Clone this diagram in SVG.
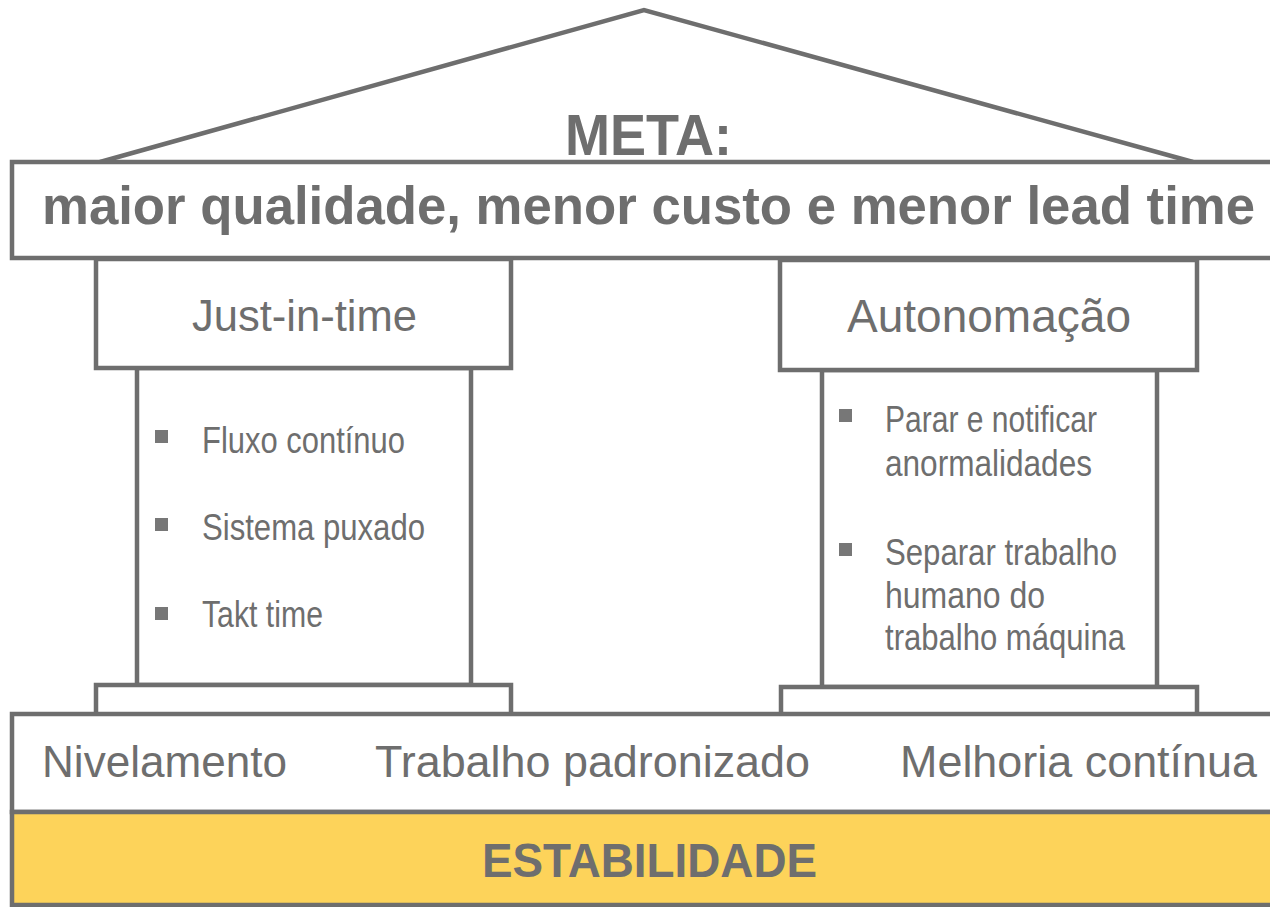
<svg xmlns="http://www.w3.org/2000/svg" width="1270" height="907" viewBox="0 0 1270 907">
<style>
.ln{fill:#fff;stroke:#6e6e6e;stroke-width:4.5}
.t{font-family:"Liberation Sans",Arial,sans-serif;fill:#6e6e6e}
.b{font-weight:bold}
.bul{fill:#777}
</style>
<rect width="1270" height="907" fill="#fff"/>
<g id="roof">
<polyline class="ln" points="100,162 644,10 1193,162" fill="none"/>
<rect class="ln" x="12" y="162" width="1300" height="96"/>
<text class="t b" x="565" y="155" font-size="58" textLength="167" lengthAdjust="spacingAndGlyphs">META:</text>
<text class="t b" x="42" y="224" font-size="54" textLength="1213" lengthAdjust="spacingAndGlyphs">maior qualidade, menor custo e menor lead time</text>
</g>
<g id="jit">
<rect class="ln" x="137" y="368" width="334" height="317"/>
<rect class="ln" x="96" y="259" width="415" height="109"/>
<rect class="ln" x="96" y="685" width="415" height="30"/>
<text class="t" x="192" y="331" font-size="45" textLength="225" lengthAdjust="spacingAndGlyphs">Just-in-time</text>
<rect class="bul" x="155" y="430" width="13" height="13"/>
<rect class="bul" x="155" y="518" width="13" height="13"/>
<rect class="bul" x="155" y="607" width="13" height="13"/>
<text class="t" x="202" y="453" font-size="36" textLength="203" lengthAdjust="spacingAndGlyphs">Fluxo contínuo</text>
<text class="t" x="202" y="540" font-size="36" textLength="223" lengthAdjust="spacingAndGlyphs">Sistema puxado</text>
<text class="t" x="202" y="627" font-size="36" textLength="121" lengthAdjust="spacingAndGlyphs">Takt time</text>
</g>
<g id="autonomacao">
<rect class="ln" x="822" y="370" width="335" height="317"/>
<rect class="ln" x="780" y="260" width="417" height="110"/>
<rect class="ln" x="781" y="687" width="416" height="28"/>
<text class="t" x="847" y="332" font-size="46" textLength="284" lengthAdjust="spacingAndGlyphs">Autonomação</text>
<rect class="bul" x="839" y="409" width="13" height="13"/>
<rect class="bul" x="839" y="543" width="13" height="13"/>
<text class="t" x="885" y="432" font-size="36" textLength="212" lengthAdjust="spacingAndGlyphs">Parar e notificar</text>
<text class="t" x="885" y="476" font-size="36" textLength="207" lengthAdjust="spacingAndGlyphs">anormalidades</text>
<text class="t" x="885" y="565" font-size="36" textLength="232" lengthAdjust="spacingAndGlyphs">Separar trabalho</text>
<text class="t" x="885" y="608" font-size="36" textLength="160" lengthAdjust="spacingAndGlyphs">humano do</text>
<text class="t" x="885" y="650" font-size="36" textLength="240" lengthAdjust="spacingAndGlyphs">trabalho máquina</text>
</g>
<g id="base">
<rect class="ln" x="12" y="714" width="1300" height="98"/>
<text class="t" x="42" y="777" font-size="44" textLength="245" lengthAdjust="spacingAndGlyphs">Nivelamento</text>
<text class="t" x="375" y="777" font-size="44" textLength="435" lengthAdjust="spacingAndGlyphs">Trabalho padronizado</text>
<text class="t" x="900" y="777" font-size="44" textLength="357" lengthAdjust="spacingAndGlyphs">Melhoria contínua</text>
</g>
<g id="estabilidade">
<rect x="12" y="812" width="1300" height="93" fill="#fdd35a" stroke="#6e6e6e" stroke-width="4.5"/>
<text class="t b" x="482" y="877" font-size="49" textLength="335" lengthAdjust="spacingAndGlyphs">ESTABILIDADE</text>
</g>
<g id="connectors"/>
</svg>
